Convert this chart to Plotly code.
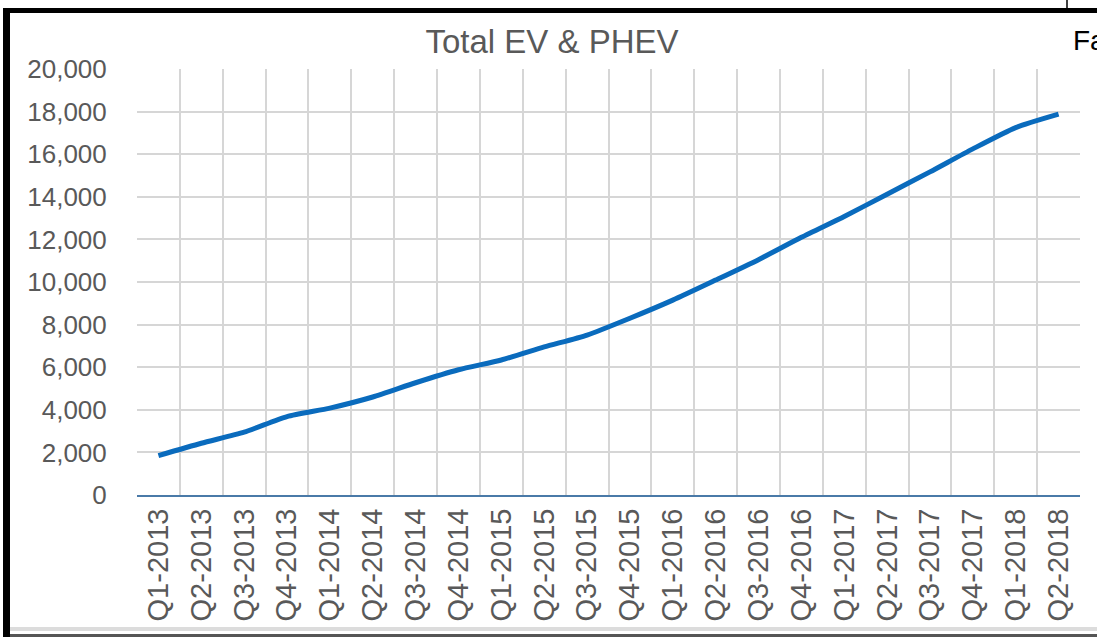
import plotly.graph_objects as go

quarters = ["Q1-2013", "Q2-2013", "Q3-2013", "Q4-2013",
            "Q1-2014", "Q2-2014", "Q3-2014", "Q4-2014",
            "Q1-2015", "Q2-2015", "Q3-2015", "Q4-2015",
            "Q1-2016", "Q2-2016", "Q3-2016", "Q4-2016",
            "Q1-2017", "Q2-2017", "Q3-2017", "Q4-2017",
            "Q1-2018", "Q2-2018"]
total_ev_phev = [1850, 2430, 2950, 3680, 4080, 4600, 5270, 5880,
                 6340, 6950, 7510, 8300, 9150, 10090, 11050, 12100,
                 13080, 14120, 15170, 16250, 17250, 17880]
y_ticks = list(range(0, 20001, 2000))

W, H = 1097, 637
L, R, T, B = 137, 1080, 69, 495


def px(x):
    return (x - L) / (R - L)


def py(y):
    return (B - y) / (B - T)


fig = go.Figure()
fig.add_trace(go.Scatter(
    x=quarters, y=total_ev_phev, mode="lines",
    line=dict(color="#0a6bbd", width=5, shape="spline", smoothing=0.6),
    hoverinfo="x+y", showlegend=False,
))

font_family = "Liberation Sans, Arial, sans-serif"
grey = "#595959"

fig.update_layout(
    width=W, height=H,
    margin=dict(l=L, r=W - R, t=T, b=H - B),
    paper_bgcolor="white", plot_bgcolor="white",
    title=dict(text="Total EV & PHEV", x=552 / W, xref="container", xanchor="center",
               y=1 - 41 / H, yref="container", yanchor="middle",
               font=dict(family=font_family, size=33, color=grey)),
    font=dict(family=font_family, color=grey),
)
fig.update_xaxes(
    type="category", range=[-0.5, len(quarters) - 0.5],
    tickson="boundaries", showgrid=True, gridcolor="#d6d6d6", gridwidth=2,
    tickangle=-90, tickfont=dict(size=29, color=grey, family=font_family),
    showline=True, linecolor="#4a7aa8", linewidth=2,
    ticks="outside", ticklen=14, tickcolor="rgba(0,0,0,0)",
)
fig.update_yaxes(
    range=[0, 20000], tickvals=y_ticks, tickformat=",",
    showgrid=True, gridcolor="#d6d6d6", gridwidth=2, zeroline=False,
    tickfont=dict(size=26, color=grey, family=font_family),
    ticks="outside", ticklen=24, tickcolor="rgba(0,0,0,0)",
)

shapes = []
# black left bar and top bar of the frame
shapes.append(dict(type="rect", xref="paper", yref="paper",
                   x0=px(3), x1=px(10), y0=py(637), y1=py(9),
                   fillcolor="black", line=dict(width=0), layer="above"))
shapes.append(dict(type="rect", xref="paper", yref="paper",
                   x0=px(3), x1=px(1097), y0=py(13), y1=py(8),
                   fillcolor="black", line=dict(width=0), layer="above"))
# bottom double rule
shapes.append(dict(type="rect", xref="paper", yref="paper",
                   x0=px(10), x1=px(1097), y0=py(631), y1=py(627),
                   fillcolor="#dcdcdc", line=dict(width=0), layer="above"))
shapes.append(dict(type="rect", xref="paper", yref="paper",
                   x0=px(10), x1=px(1097), y0=py(637), y1=py(634),
                   fillcolor="#555555", line=dict(width=0), layer="above"))
# fragment above the top rule
shapes.append(dict(type="line", xref="paper", yref="paper",
                   x0=px(1067), x1=px(1067), y0=py(0), y1=py(8),
                   line=dict(color="black", width=1.5), layer="above"))
fig.update_layout(shapes=shapes)

fig.add_annotation(text="Fa", xref="paper", yref="paper",
                   x=px(1071), y=py(40), xanchor="left", yanchor="middle",
                   showarrow=False,
                   font=dict(family=font_family, size=28, color="black"))

fig.write_html("out.html",
               config={"displayModeBar": False},
               post_script="document.body.style.margin='0px';"
                           "document.body.style.overflow='hidden';")
